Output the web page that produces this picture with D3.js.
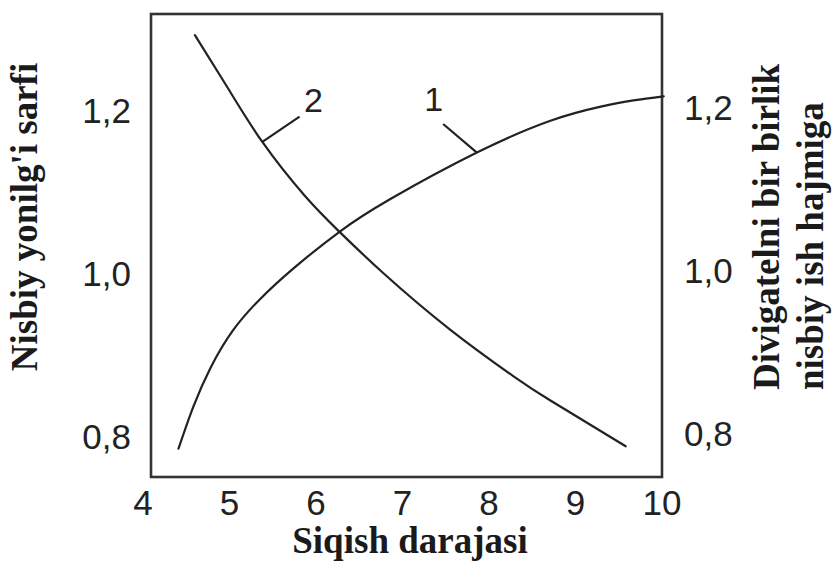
<!DOCTYPE html>
<html>
<head>
<meta charset="utf-8">
<script src="https://cdn.jsdelivr.net/npm/d3@7"></script>
<style>
  html, body { margin: 0; padding: 0; background: #fff; }
  svg { display: block; }
</style>
</head>
<body>
<svg id="chart" width="833" height="568"></svg>
<script>
// Compression ratio on the x axis, relative values on both y axes
const xTicks = [4, 5, 6, 7, 8, 9, 10];
const yTicks = [0.8, 1.0, 1.2];

// Curve 1: relative working volume per unit of engine
const curve1X = [4.41, 4.58, 4.78, 5.04, 5.35, 5.74, 6.26, 6.86, 7.86, 8.71, 9.28, 9.67, 10.02];
const curve1Y = [0.782, 0.833, 0.881, 0.927, 0.965, 1.003, 1.047, 1.088, 1.145, 1.184, 1.201, 1.209, 1.214];

// Curve 2: relative fuel consumption
const curve2X = [4.60, 4.97, 5.38, 5.87, 6.26, 6.78, 7.55, 8.28, 8.71, 9.58];
const curve2Y = [1.289, 1.226, 1.158, 1.092, 1.049, 0.997, 0.928, 0.871, 0.841, 0.785];

// Curve callouts: number, leader start (on curve), leader end, label centre
const calloutNames = ["1", "2"];
const calloutFrom = [[7.86, 1.145], [5.38, 1.158]];
const calloutTo = [[7.47, 1.180], [5.81, 1.189]];
const calloutText = [[7.36, 1.211], [5.97, 1.210]];

const xTitle = "Siqish darajasi";
const yLeftTitle = "Nisbiy yonilg'i sarfi";
const yRightTitle = ["Divigatelni bir birlik", "nisbiy ish hajmiga"];

const frame = { left: 151, right: 662, top: 14, bottom: 477 };

const svg = d3.select("#chart");

const x = d3.scaleLinear().domain([4, 10]).range([143, 662]);
const y = d3.scaleLinear().domain([0.8, 1.2]).range([434, 107.7]);

const fmt = d3.formatLocale({ decimal: ",", thousands: " ", grouping: [3], currency: ["", ""] }).format(".1f");

const tickFont = "'Liberation Sans', Arial, sans-serif";
const titleFont = "'Liberation Serif', 'Times New Roman', serif";

// Plot frame
svg.append("rect")
  .attr("x", frame.left).attr("y", frame.top)
  .attr("width", frame.right - frame.left)
  .attr("height", frame.bottom - frame.top)
  .attr("fill", "none")
  .attr("stroke", "#333")
  .attr("stroke-width", 2.6);

// X tick labels
svg.append("g").selectAll("text")
  .data(xTicks).join("text")
  .attr("x", d => x(d))
  .attr("y", 515)
  .attr("text-anchor", "middle")
  .attr("font-family", tickFont)
  .attr("font-size", 35)
  .attr("fill", "#222")
  .text(d => d);

// Left y tick labels
svg.append("g").selectAll("text")
  .data(yTicks).join("text")
  .attr("x", 131)
  .attr("y", d => y(d) + 15)
  .attr("text-anchor", "end")
  .attr("font-family", tickFont)
  .attr("font-size", 35)
  .attr("fill", "#222")
  .text(d => fmt(d));

// Right y tick labels
svg.append("g").selectAll("text")
  .data(yTicks).join("text")
  .attr("x", 684)
  .attr("y", d => y(d) + 12)
  .attr("text-anchor", "start")
  .attr("font-family", tickFont)
  .attr("font-size", 35)
  .attr("fill", "#222")
  .text(d => fmt(d));

// Curves
const line = d3.line()
  .x(d => x(d[0]))
  .y(d => y(d[1]))
  .curve(d3.curveNatural);

[[curve1X, curve1Y], [curve2X, curve2Y]].forEach(([xs, ys]) => {
  svg.append("path")
    .datum(xs.map((v, i) => [v, ys[i]]))
    .attr("d", line)
    .attr("fill", "none")
    .attr("stroke", "#222")
    .attr("stroke-width", 2.2)
    .attr("stroke-linecap", "round");
});

// Callout leaders and numbers
calloutNames.forEach((name, i) => {
  svg.append("line")
    .attr("x1", x(calloutFrom[i][0])).attr("y1", y(calloutFrom[i][1]))
    .attr("x2", x(calloutTo[i][0])).attr("y2", y(calloutTo[i][1]))
    .attr("stroke", "#222")
    .attr("stroke-width", 2.2);
  svg.append("text")
    .attr("x", x(calloutText[i][0]))
    .attr("y", y(calloutText[i][1]))
    .attr("dy", "0.36em")
    .attr("text-anchor", "middle")
    .attr("font-family", tickFont)
    .attr("font-size", 34)
    .attr("fill", "#222")
    .text(name);
});

// X axis title
svg.append("text")
  .attr("x", 410)
  .attr("y", 553)
  .attr("text-anchor", "middle")
  .attr("font-family", titleFont)
  .attr("font-weight", "bold")
  .attr("font-size", 37)
  .attr("fill", "#1a1a1a")
  .text(xTitle);

// Left y axis title
svg.append("text")
  .attr("transform", "translate(37,217) rotate(-90)")
  .attr("text-anchor", "middle")
  .attr("font-family", titleFont)
  .attr("font-weight", "bold")
  .attr("font-size", 37)
  .attr("fill", "#1a1a1a")
  .text(yLeftTitle);

// Right y axis title, two lines
yRightTitle.forEach((t, i) => {
  svg.append("text")
    .attr("transform", `translate(${779 + i * 44},390) rotate(-90)`)
    .attr("text-anchor", "start")
    .attr("font-family", titleFont)
    .attr("font-weight", "bold")
    .attr("font-size", 37)
    .attr("fill", "#1a1a1a")
    .text(t);
});
</script>
</body>
</html>
